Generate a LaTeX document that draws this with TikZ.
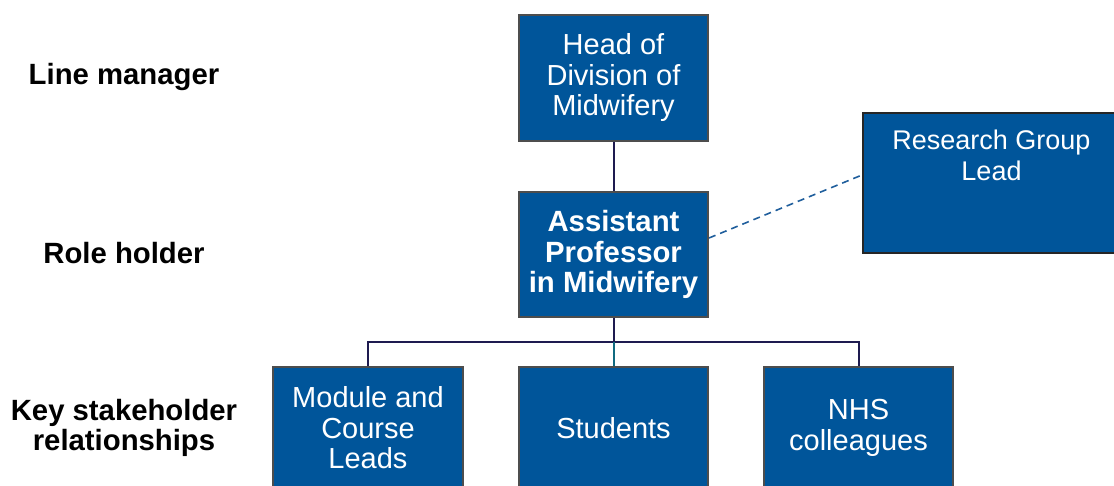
\documentclass[tikz,border=0pt]{standalone}
\usepackage{fontspec}
\setmainfont{Liberation Sans}
\definecolor{boxblue}{HTML}{00559A}
\definecolor{boxedge}{HTML}{4D4D4D}
\definecolor{navy}{HTML}{1E1B50}
\definecolor{stub}{HTML}{106A80}
\definecolor{dashblue}{HTML}{1F5E9C}
\begin{document}
\begin{tikzpicture}[x=1pt,y=1pt,
  rolebox/.style={draw=boxedge,line width=2pt,fill=boxblue,text=white,
    align=center,inner sep=0pt,minimum width=189pt,minimum height=126pt,
    font=\fontsize{29}{30.5}\selectfont},
  tier/.style={align=center,font=\bfseries\fontsize{29.3}{30}\selectfont},
  link/.style={draw=navy,line width=2pt}]
\useasboundingbox (0,0) rectangle (1114,-486);

% row labels
\node[tier] (lm) at (124,-77) {Line manager};
\node[tier] (rh) at (124,-253) {Role holder};
\node[tier] (ks) at (124,-428) {Key stakeholder\\relationships};

% roles
\node[rolebox] (head) at (613.5,-78) {Head of\\Division of\\Midwifery};
\node[rolebox,minimum height=125pt,font=\bfseries\fontsize{29.3}{30.5}\selectfont]
  (asst) at (613.5,-254.5) {Assistant\\Professor\\in Midwifery};
\node[rolebox,draw=black!85,minimum width=257pt,minimum height=140pt,
  label={[anchor=north,text=white,align=center,yshift=-14pt,
    font=\fontsize{27}{31}\selectfont]north:Research Group\\Lead}]
  (rg) at (991.5,-183) {};
\node[rolebox,minimum width=190pt,minimum height=122pt] (mod) at (368,-428)
  {Module and\\Course\\Leads};
\node[rolebox,minimum height=122pt] (stu) at (613.5,-428) {Students};
\node[rolebox,minimum height=122pt] (nhs) at (858.5,-428) {NHS\\colleagues};

% reporting lines
\coordinate (bus) at (613.5,-342);
\draw[link] (head.south) -- (asst.north);
\draw[link] (asst.south) -- (bus);
\draw[link] (mod.north) |- (bus) -| (nhs.north);
\draw[draw=stub,line width=2pt] (bus) -- (stu.north);
\draw[draw=dashblue,line width=1.6pt,dash pattern=on 7pt off 5pt]
  ([yshift=16.5pt]asst.east) -- ([yshift=8pt]rg.west);
\end{tikzpicture}
\end{document}
